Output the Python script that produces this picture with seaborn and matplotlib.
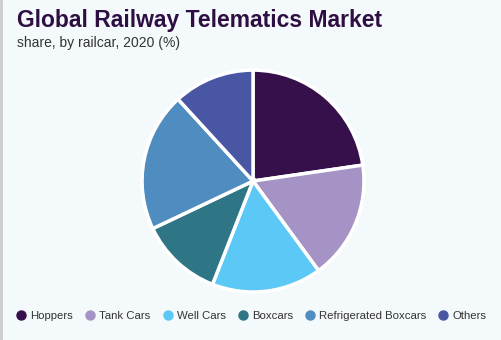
import matplotlib
matplotlib.use("Agg")
import matplotlib.pyplot as plt
import seaborn as sns
from matplotlib.lines import Line2D

categories = ["Hoppers", "Tank Cars", "Well Cars", "Boxcars", "Refrigerated Boxcars", "Others"]
shares = [22.7, 17.25, 16.0, 12.0, 20.25, 11.8]
colors = ["#36104a", "#a593c6", "#5bc8f5", "#2e7585", "#4f8cbf", "#4856a3"]

sns.set_theme(style="white")
plt.rcParams['font.family'] = ['Liberation Sans', 'DejaVu Sans']
bg = "#f4f9fc"
fig = plt.figure(figsize=(5.02, 3.40), dpi=100, facecolor=bg)
ax = fig.add_axes([0.283, 0.141, 0.442, 0.653])
ax.set_facecolor(bg)
ax.pie(shares, colors=sns.color_palette(colors), startangle=90, counterclock=False,
       wedgeprops=dict(edgecolor="white", linewidth=2.5))
ax.set_xlim(-1.0, 1.0)
ax.set_ylim(-1.0, 1.0)
ax.set_aspect("equal")
ax.axis("off")

fig.text(17/502, 1 - 20/340, "Global Railway Telematics Market", fontsize=16.5,
         fontweight="bold", color="#2d0f42", va="center", ha="left")
fig.text(17/502, 1 - 43/340, "share, by railcar, 2020 (%)", fontsize=10,
         color="#333333", va="center", ha="left")

handles = [Line2D([0], [0], marker="o", linestyle="", markersize=6.5,
                  markerfacecolor=c, markeredgecolor=c) for c in colors]
leg = fig.legend(handles, categories, loc="center", bbox_to_anchor=(0.5, 1 - 316/340),
                 ncol=6, frameon=False, fontsize=8.2, handletextpad=0.3,
                 columnspacing=1.0, handlelength=1.0)
for t in leg.get_texts():
    t.set_color("#333333")

fig.add_artist(Line2D([0.002, 0.002], [0, 1], color="#cccccc", linewidth=2,
                      transform=fig.transFigure))
fig.savefig("out.png", dpi=100, facecolor=bg)
